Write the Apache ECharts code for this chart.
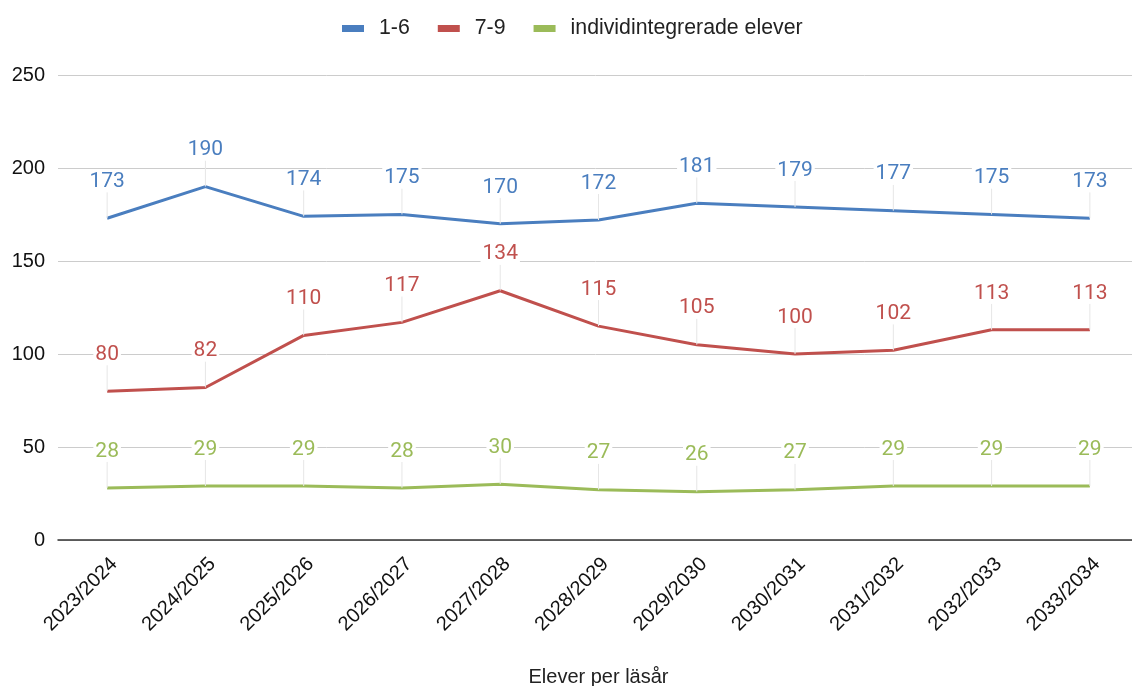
<!DOCTYPE html>
<html><head><meta charset="utf-8">
<script src="https://cdn.jsdelivr.net/npm/echarts@6/dist/echarts.min.js"></script>
<style>html,body{margin:0;padding:0;background:#fff}#c{width:1132px;height:686px}</style>
</head><body><div id="c"></div>
<script>
const categories = ['2023/2024','2024/2025','2025/2026','2026/2027','2027/2028','2028/2029','2029/2030','2030/2031','2031/2032','2032/2033','2033/2034'];
const seriesNames = ['1-6','7-9','individintegrerade elever'];
const s16 = [173,190,174,175,170,172,181,179,177,175,173];
const s79 = [80,82,110,117,134,115,105,100,102,113,113];
const sInd = [28,29,29,28,30,27,26,27,29,29,29];
const colors = ['#4a7ebf','#c0504d','#9bbb59'];
const axisName = 'Elever per läsår';

const chart = echarts.init(document.getElementById('c'));
function mk(name, data, color){
  return {
    name, type:'line', data, color, symbol:'circle', symbolSize:0.1, showSymbol:true,
    itemStyle:{color, opacity:0},
    lineStyle:{width:3,color},
    label:{show:true,position:'top',distance:4,color,fontFamily:'Roboto',fontSize:21,
      backgroundColor:'#fff',padding:[0,2],opacity:1},
    labelLayout:{dy:-22},
    labelLine:{show:true,lineStyle:{color:'#e6e6e6',width:1,opacity:1}},
    emphasis:{disabled:true}, animation:false
  };
}
chart.setOption({
  animation:false,
  legend:{top:13,left:337,itemWidth:22,itemHeight:7,itemGap:28,icon:'rect',
    textStyle:{fontFamily:'Liberation Sans',fontSize:21.3,color:'#222',padding:[0,0,0,10]},
    data:seriesNames.map(n=>({name:n,itemStyle:{opacity:1}}))},
  grid:{left:58,right:-7,top:75,bottom:146,containLabel:false,outerBoundsMode:'none'},
  xAxis:{type:'category',data:categories,boundaryGap:true,
    axisLine:{lineStyle:{color:'#333',width:1.5}},axisTick:{show:false},
    axisLabel:{rotate:45,fontFamily:'Liberation Sans',fontSize:20,color:'#111',margin:14,interval:0,verticalAlign:'top'},
    name:axisName,nameLocation:'middle',nameGap:127,
    nameTextStyle:{fontFamily:'Liberation Sans',fontSize:20,color:'#222'}},
  yAxis:{type:'value',min:0,max:250,interval:50,
    axisLine:{show:false},axisTick:{show:false},
    axisLabel:{fontFamily:'Liberation Sans',fontSize:20,color:'#111',margin:13},
    splitLine:{lineStyle:{color:'#cccccc',width:1}}},
  series:[mk(seriesNames[0],s16,colors[0]),mk(seriesNames[1],s79,colors[1]),mk(seriesNames[2],sInd,colors[2])]
});
</script></body></html>
